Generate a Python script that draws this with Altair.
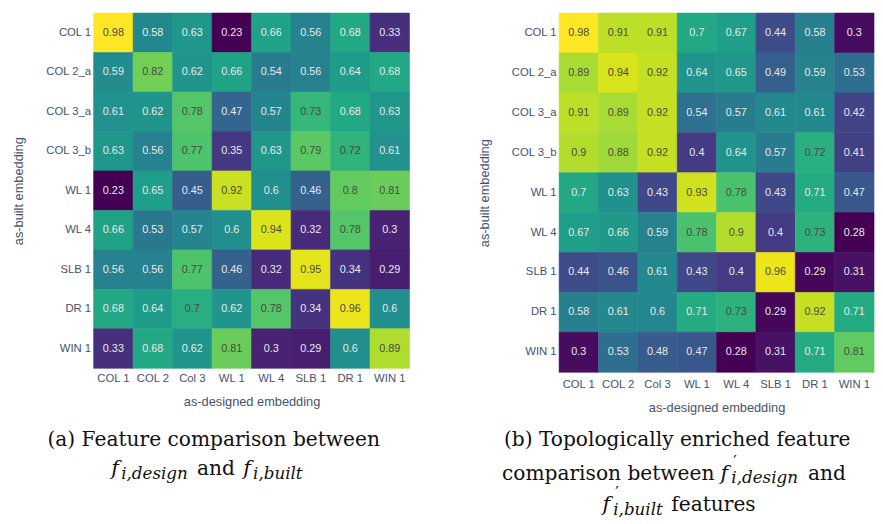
import altair as alt
import pandas as pd

rows = ["COL 1", "COL 2_a", "COL 3_a", "COL 3_b", "WL 1", "WL 4", "SLB 1", "DR 1", "WIN 1"]
cols = ["COL 1", "COL 2", "Col 3", "WL 1", "WL 4", "SLB 1", "DR 1", "WIN 1"]

vals_a = [
    [0.98, 0.58, 0.63, 0.23, 0.66, 0.56, 0.68, 0.33],
    [0.59, 0.82, 0.62, 0.66, 0.54, 0.56, 0.64, 0.68],
    [0.61, 0.62, 0.78, 0.47, 0.57, 0.73, 0.68, 0.63],
    [0.63, 0.56, 0.77, 0.35, 0.63, 0.79, 0.72, 0.61],
    [0.23, 0.65, 0.45, 0.92, 0.6, 0.46, 0.8, 0.81],
    [0.66, 0.53, 0.57, 0.6, 0.94, 0.32, 0.78, 0.3],
    [0.56, 0.56, 0.77, 0.46, 0.32, 0.95, 0.34, 0.29],
    [0.68, 0.64, 0.7, 0.62, 0.78, 0.34, 0.96, 0.6],
    [0.33, 0.68, 0.62, 0.81, 0.3, 0.29, 0.6, 0.89],
]
vals_b = [
    [0.98, 0.91, 0.91, 0.7, 0.67, 0.44, 0.58, 0.3],
    [0.89, 0.94, 0.92, 0.64, 0.65, 0.49, 0.59, 0.53],
    [0.91, 0.89, 0.92, 0.54, 0.57, 0.61, 0.61, 0.42],
    [0.9, 0.88, 0.92, 0.4, 0.64, 0.57, 0.72, 0.41],
    [0.7, 0.63, 0.43, 0.93, 0.78, 0.43, 0.71, 0.47],
    [0.67, 0.66, 0.59, 0.78, 0.9, 0.4, 0.73, 0.28],
    [0.44, 0.46, 0.61, 0.43, 0.4, 0.96, 0.29, 0.31],
    [0.58, 0.61, 0.6, 0.71, 0.73, 0.29, 0.92, 0.71],
    [0.3, 0.53, 0.48, 0.47, 0.28, 0.31, 0.71, 0.81],
]

x_title = "as-designed embedding"
y_title = "as-built embedding"

AX_COLOR = "#46536b"
SANS = "Liberation Sans"
SERIF = "DejaVu Serif"


def to_df(vals):
    recs = []
    for r, rname in enumerate(rows):
        for c, cname in enumerate(cols):
            recs.append({"row": rname, "col": cname, "v": vals[r][c]})
    return pd.DataFrame(recs)


one = pd.DataFrame({"k": [0]})


def piece(text, x, y, size=20.5, italic=False):
    return alt.Chart(one).mark_text(
        text=text, font=SERIF, fontSize=size,
        fontStyle="italic" if italic else "normal",
        align="left", baseline="alphabetic", color="#111111",
    ).encode(x=alt.value(x), y=alt.value(y))


def centered(text, x, y, size=20.5):
    return alt.Chart(one).mark_text(
        text=text, font=SERIF, fontSize=size, align="center",
        baseline="alphabetic", color="#111111",
    ).encode(x=alt.value(x), y=alt.value(y))


def heat(vals, lab_pad_x):
    df = to_df(vals)
    base = alt.Chart(df).transform_joinaggregate(
        vmin="min(v)", vmax="max(v)"
    ).transform_calculate(
        norm="(datum.v - datum.vmin) / (datum.vmax - datum.vmin)"
    ).encode(
        x=alt.X("col:O", sort=cols, title=x_title,
                axis=alt.Axis(labelAngle=0, ticks=False, domain=False,
                              labelPadding=lab_pad_x, titlePadding=12)),
        y=alt.Y("row:O", sort=rows, title=y_title,
                axis=alt.Axis(ticks=False, domain=False, labelPadding=3,
                              titlePadding=20)),
    )
    sc = alt.Scale(scheme="viridis", zero=False, nice=False)
    rects = base.mark_rect(strokeWidth=0.6).encode(
        color=alt.Color("v:Q", scale=sc, legend=None),
        stroke=alt.Stroke("v:Q", scale=sc, legend=None),
    )
    texts = base.mark_text(font=SANS, fontSize=11).encode(
        text=alt.Text("v:Q", format=".2~f"),
        color=alt.when(alt.datum.norm > 0.615).then(alt.value("#4a4a40")).otherwise(alt.value("#e8e8e8")),
    )
    return rects, texts


oy = 8

# panel (a)
ra, ta = heat(vals_a, 4)
ox = 92
cap_a = [
    centered("(a) Feature comparison between", 214 - ox, 448 - oy),
    piece("f", 110 - ox, 477 - oy, 21, True),
    piece("i,design", 120 - ox, 481 - oy, 17, True),
    piece("and", 197 - ox, 477 - oy),
    piece("f", 244 - ox, 477 - oy, 21, True),
    piece("i,built", 254 - ox, 481 - oy, 17, True),
]
panel_a = alt.layer(ra, ta, *cap_a).properties(width=321, height=361)

# panel (b)
rb, tb = heat(vals_b, 6)
ox = 561
cap_b = [
    centered("(b) Topologically enriched feature", 681 - ox, 448 - oy),
    piece("comparison between", 503 - ox, 482 - oy),
    piece("f", 725 - ox, 482 - oy, 21, True),
    piece("\u2032", 738 - ox, 469 - oy, 16),
    piece("i,design", 736 - ox, 486 - oy, 17, True),
    piece("and", 814 - ox, 482 - oy),
    piece("f", 605 - ox, 514 - oy, 21, True),
    piece("\u2032", 618 - ox, 501 - oy, 16),
    piece("i,built", 616 - ox, 518 - oy, 17, True),
    piece("features", 675 - ox, 514 - oy),
]
panel_b = alt.layer(rb, tb, *cap_b).properties(width=320, height=365)

chart = alt.hconcat(panel_a, panel_b, spacing=68).resolve_scale(
    color="independent", stroke="independent"
).properties(
    padding={"left": 4, "top": 0, "right": 0, "bottom": 0},
    background="white",
).configure_view(stroke=None).configure_axis(
    labelFont=SANS, labelFontSize=11.5, labelColor=AX_COLOR,
    titleFont=SANS, titleFontSize=13, titleFontWeight="normal", titleColor=AX_COLOR,
)

chart.save("out.html", embed_options={"renderer": "svg", "actions": False})
